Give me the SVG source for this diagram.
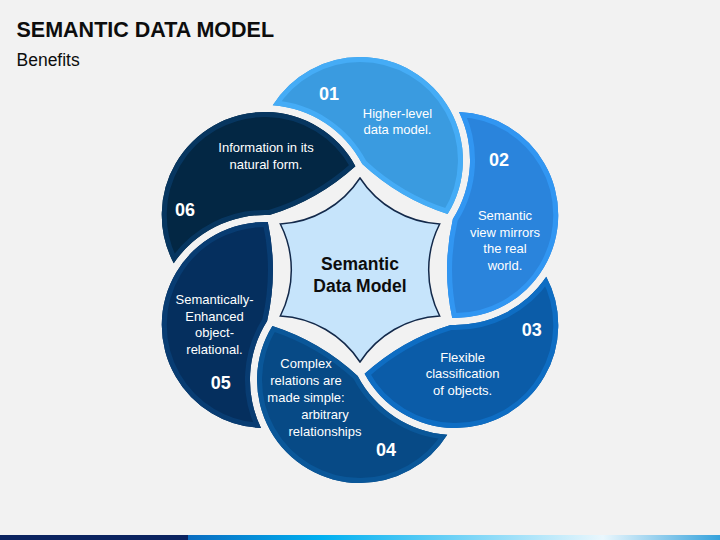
<svg xmlns="http://www.w3.org/2000/svg" xmlns:xlink="http://www.w3.org/1999/xlink" width="720" height="540" viewBox="0 0 720 540">
<style>
.t{font-family:"Liberation Sans",Arial,sans-serif;fill:#fff;font-size:13px;text-anchor:middle}
.n{font-family:"Liberation Sans",Arial,sans-serif;fill:#fff;font-size:18px;font-weight:bold;text-anchor:middle}
.c{font-family:"Liberation Sans",Arial,sans-serif;fill:#0d0d0d;font-size:17.5px;font-weight:bold;text-anchor:middle}
.b{fill:none;stroke-width:10}
</style>
<defs>
<path id="petal" d="M272.75 105.3 A103 103 0 0 1 360 57 A103 103 0 0 1 447.6 214.1 A227.6 227.6 0 0 1 362.3 164.1 A110 110 0 0 0 272.75 105.3 Z"/>
<clipPath id="pc"><path d="M272.75 105.3 A103 103 0 0 1 360 57 A103 103 0 0 1 447.6 214.1 A227.6 227.6 0 0 1 362.3 164.1 A110 110 0 0 0 272.75 105.3 Z"/></clipPath>
<linearGradient id="bar" x1="0" y1="0" x2="1" y2="0">
<stop offset="0" stop-color="#0a6cc0"/>
<stop offset="0.25" stop-color="#00b0f0"/>
<stop offset="0.78" stop-color="#eaf7fd"/>
<stop offset="1" stop-color="#35a2dc"/>
</linearGradient>
</defs>
<rect width="720" height="540" fill="#f2f2f2"/>
<text x="16.5" y="36.7" style="font-family:'Liberation Sans',Arial,sans-serif;font-size:21.5px;font-weight:bold;fill:#0d0d0d">SEMANTIC DATA MODEL</text>
<text x="16.5" y="65.7" style="font-family:'Liberation Sans',Arial,sans-serif;font-size:17.5px;fill:#0d0d0d">Benefits</text>

<g id="petal-01">
<use xlink:href="#petal" fill="#3a9be0"/>
<use xlink:href="#petal" class="b" stroke="#45acf6" clip-path="url(#pc)"/>
<text class="n" x="329" y="99.5">01</text>
<text class="t" x="397.5" y="117.7">Higher-level</text>
<text class="t" x="397.5" y="134.3">data model.</text>
</g>
<g id="petal-02">
<g transform="rotate(60 360 270)">
<use xlink:href="#petal" fill="#2a84dc"/>
<use xlink:href="#petal" class="b" stroke="#3196f2" clip-path="url(#pc)"/>
</g>
<text class="n" x="499" y="165.7">02</text>
<text class="t" x="505" y="220">Semantic</text>
<text class="t" x="505" y="236.7">view mirrors</text>
<text class="t" x="505" y="253.3">the real</text>
<text class="t" x="505" y="270">world.</text>
</g>
<g id="petal-03">
<g transform="rotate(120 360 270)">
<use xlink:href="#petal" fill="#0b5ca8"/>
<use xlink:href="#petal" class="b" stroke="#0e6dc3" clip-path="url(#pc)"/>
</g>
<text class="n" x="531.7" y="335.7">03</text>
<text class="t" x="462.6" y="361.7">Flexible</text>
<text class="t" x="462.6" y="378.3">classification</text>
<text class="t" x="462.6" y="395">of objects.</text>
</g>
<g id="petal-04">
<g transform="rotate(180 360 270)">
<use xlink:href="#petal" fill="#074a86"/>
<use xlink:href="#petal" class="b" stroke="#0a5799" clip-path="url(#pc)"/>
</g>
<text class="t" x="306" y="368.3">Complex</text>
<text class="t" x="306" y="385">relations are</text>
<text class="t" x="306" y="401.7">made simple:</text>
<text class="t" x="325" y="419">arbitrary</text>
<text class="t" x="325" y="436">relationships</text>
<text class="n" x="386" y="456">04</text>
</g>
<g id="petal-05">
<g transform="rotate(240 360 270)">
<use xlink:href="#petal" fill="#052f5e"/>
<use xlink:href="#petal" class="b" stroke="#083c72" clip-path="url(#pc)"/>
</g>
<text class="t" x="214.5" y="304">Semantically-</text>
<text class="t" x="214.5" y="320.7">Enhanced</text>
<text class="t" x="214.5" y="337.3">object-</text>
<text class="t" x="214.5" y="354">relational.</text>
<text class="n" x="220.7" y="389.3">05</text>
</g>
<g id="petal-06">
<g transform="rotate(300 360 270)">
<use xlink:href="#petal" fill="#032744"/>
<use xlink:href="#petal" class="b" stroke="#073660" clip-path="url(#pc)"/>
</g>
<text class="t" x="266" y="152.3">Information in its</text>
<text class="t" x="266" y="169">natural form.</text>
<text class="n" x="185" y="216">06</text>
</g>
<g id="hub">
<path d="M360 178 A101.7 101.7 0 0 0 439.67 224 A101.7 101.7 0 0 0 439.67 316 A101.7 101.7 0 0 0 360 362 A101.7 101.7 0 0 0 280.33 316 A101.7 101.7 0 0 0 280.33 224 A101.7 101.7 0 0 0 360 178 Z" fill="#c6e4fb" stroke="#13294a" stroke-width="1.5"/>
<text class="c" x="360" y="270">Semantic</text>
<text class="c" x="360" y="291.7">Data Model</text>
</g>
<g id="connectors"/>
<rect x="0" y="535" width="188" height="5" fill="#0b2360"/>
<rect x="188" y="535" width="532" height="5" fill="url(#bar)"/>
</svg>
